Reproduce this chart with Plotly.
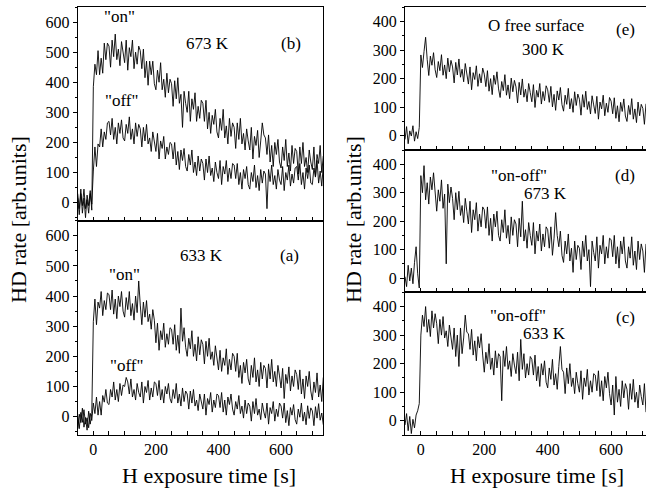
import plotly.graph_objects as go

# ---------------- data (5 s sampling) ----------------
t_left = list(range(-50, 736, 5))    # H exposure time [s], left panels
t_right = list(range(-50, 711, 5))   # right panels

b_on = [30, -20, 45, -35, 15, -50, 25, -10, 40, -25,
        385, 460, 425, 505, 425, 480, 430, 530, 475, 530,
        520, 450, 540, 485, 560, 475, 510, 455, 535, 495,
        465, 540, 440, 515, 485, 540, 445, 500, 460, 520,
        505, 445, 510, 415, 470, 390, 470, 425, 470, 395,
        375, 440, 400, 465, 375, 410, 350, 430, 365, 410,
        395, 320, 405, 345, 415, 330, 360, 250, 370, 330,
        300, 370, 270, 345, 310, 365, 270, 320, 280, 340,
        330, 270, 340, 245, 300, 230, 290, 260, 310, 235,
        215, 280, 240, 310, 215, 255, 195, 280, 220, 265,
        250, 180, 265, 210, 280, 195, 230, 175, 245, 205,
        175, 250, 145, 220, 190, 240, 150, 205, 265, 225,
        215, 160, 225, 135, 190, 120, 200, 160, 210, 135,
        115, 185, 140, 210, 120, 165, 105, 190, 130, 180,
        170, 95, 185, 130, 200, 120, 150, 100, 175, 135,
        110, 185, 85, 160, 130, 190, 100, 155]
b_off = [15, -40, 30, -10, 45, -20, 10, -35, 30, -5,
         105, 185, 120, 195, 185, 245, 185, 235, 210, 265,
         270, 225, 280, 210, 250, 195, 265, 230, 275, 215,
         205, 260, 230, 285, 210, 245, 195, 265, 220, 260,
         245, 185, 250, 205, 260, 195, 215, 170, 235, 195,
         170, 230, 145, 205, 180, 220, 145, 185, 160, 200,
         195, 145, 200, 125, 170, 110, 175, 140, 180, 120,
         105, 160, 125, 175, 100, 135, 90, 155, 105, 145,
         130, 75, 145, 100, 155, 90, 115, 70, 135, 100,
         80, 140, 60, 120, 95, 140, 70, 115, 80, 130,
         125, 80, 130, 60, 100, 45, 110, 80, 120, 60,
         45, 100, 70, 125, 50, 90, 40, 110, 65, 105,
         95, -20, 110, 70, 125, 60, 90, 45, 110, 75,
         60, 120, 40, 100, 75, 125, 55, 95, 65, 115,
         120, 75, 130, 60, 100, 45, 115, 80, 125, 65,
         60, 115, 85, 140, 65, 105, 55, 125]
a_on = [-40, 8, -20, 28, -35, -3, -45, 18, -25, 10,
        315, 390, 305, 380, 360, 415, 335, 385, 355, 410,
        405, 355, 420, 340, 390, 325, 400, 365, 415, 350,
        330, 395, 355, 415, 335, 375, 320, 400, 345, 450,
        370, 305, 380, 330, 385, 315, 340, 290, 355, 320,
        245, 310, 220, 285, 255, 310, 230, 275, 240, 295,
        290, 240, 305, 220, 270, 210, 360, 250, 295, 230,
        200, 260, 225, 285, 200, 240, 185, 265, 205, 255,
        240, 175, 250, 200, 260, 190, 215, 170, 235, 200,
        155, 220, 150, 195, 170, 225, 140, 190, 155, 210,
        200, 150, 210, 130, 170, 110, 180, 145, 190, 125,
        105, 170, 130, 195, 115, 155, 100, 180, 125, 170,
        160, 95, 175, 125, 190, 115, 150, 100, 170, 135,
        95, 160, 60, 140, 110, 165, 85, 135, 100, 155,
        140, 90, 155, 75, 125, 60, 135, 100, 150, 85,
        55, 115, 80, 145, 65, 105, 50, 130]
a_off = [2, -40, 14, -19, 23, -25, -4, -37, 11, -13,
         45, 10, 65, 5, 50, 5, 70, 48, 90, 45,
         40, 90, 65, 115, 55, 90, 50, 110, 70, 105,
         100, 130, 115, 75, 125, 65, 90, 55, 110, 80,
         65, 115, 45, 100, 80, 120, 55, 95, 65, 115,
         110, 70, 120, 55, 90, 45, 100, 75, 110, 60,
         45, 90, 60, 110, 45, 75, 35, 95, 50, 85,
         75, 25, 85, 45, 90, 35, 55, 20, 75, 45,
         25, 75, 5, 60, 40, 80, 15, 55, 30, 75,
         70, 30, 80, 15, 55, 5, 65, 40, 75, 25,
         5, 50, 25, 70, 10, 35, -5, 55, 10, 45,
         35, -15, 50, 10, 60, 5, 25, -10, 45, 15,
         -5, 45, -25, 30, 10, 50, -15, 25, 0, 45,
         35, -5, 45, -20, 20, -30, 30, 5, 40, -10,
         -25, 25, -2, 45, -15, 15, -27, 36, -6, 29,
         19, -30, 33, -5, 43, -12, 12, -27]
e_vals = [-13, 32, -28, 17, -1, 35, -19, 14, -10, 29,
          283, 239, 295, 345, 267, 211, 279, 247, 291, 231,
          204, 260, 228, 284, 212, 248, 200, 272, 224, 264,
          241, 185, 257, 213, 269, 205, 233, 189, 253, 221,
          181, 241, 161, 221, 197, 245, 173, 217, 185, 237,
          216, 172, 228, 156, 200, 144, 212, 180, 224, 164,
          134, 190, 158, 214, 142, 178, 130, 202, 154, 194,
          171, 115, 187, 143, 199, 135, 163, 119, 183, 151,
          119, 179, 99, 159, 135, 183, 111, 155, 123, 175,
          161, 117, 173, 101, 145, 89, 157, 125, 169, 109,
          86, 142, 110, 166, 94, 130, 82, 154, 106, 146,
          128, 72, 144, 100, 156, 92, 120, 76, 140, 108,
          78, 138, 58, 118, 94, 142, 70, 114, 82, 134,
          121, 77, 133, 61, 105, 49, 117, 85, 129, 69,
          50, 106, 74, 130, 58, 94, 46, 118, 70, 110,
          96, 40, 112]
d_vals = [5, -30, 45, -10, 35, -20, 55, 110, 15, -35,
          360, 300, 395, 275, 335, 260, 355, 310, 370, 285,
          235, 310, 270, 345, 245, 295, 50, 330, 265, 320,
          280, 205, 300, 240, 305, 220, 255, 195, 280, 235,
          190, 270, 160, 240, 205, 265, 165, 225, 180, 250,
          240, 175, 250, 150, 210, 130, 225, 180, 235, 150,
          130, 205, 160, 240, 140, 185, 120, 215, 150, 205,
          190, 110, 210, 145, 270, 130, 170, 105, 195, 150,
          115, 195, 85, 165, 130, 190, 95, 155, 110, 180,
          170, 105, 180, 80, 140, 230, 150, 110, 165, 80,
          55, 130, 85, 155, 60, 105, 20, 130, 65, 115,
          105, 30, 130, 75, 150, 60, 100, -30, 130, 90,
          60, 145, 35, 115, 85, 150, 50, 110, 70, 140,
          135, 75, 150, 50, 110, 35, 130, 85, 145, 60,
          35, 110, 70, 145, 45, 95, 30, 130, 65, 120,
          95, 20, 120]
c_vals = [-15, 25, -35, 15, -45, 5, -25, 20, 35, 60,
          300, 370, 330, 400, 310, 355, 295, 385, 325, 375,
          340, 270, 355, 300, 365, 290, 315, 260, 335, 295,
          250, 325, 225, 300, 190, 325, 235, 290, 370, 310,
          305, 250, 320, 230, 280, 210, 295, 255, 305, 230,
          170, 240, 200, 270, 180, 220, 160, 245, 185, 235,
          225, 70, 245, 190, 260, 180, 210, 155, 235, 195,
          165, 240, 140, 285, 180, 235, 150, 200, 160, 225,
          215, 160, 230, 140, 190, 120, 200, 160, 210, 135,
          115, 185, 145, 215, 125, 165, 110, 190, 260, 180,
          170, 95, 185, 130, 200, 120, 150, 95, 170, 130,
          100, 175, 75, 150, 120, 180, 90, 140, 100, 165,
          160, 105, 175, 85, 140, 70, 155, 115, 170, 95,
          55, 125, 20, 155, 65, 110, 50, 140, 80, 130,
          110, 40, 130, 75, 145, 65, 100, 45, 125, 85,
          55, 130, 30]

left_yticks = [0, 100, 200, 300, 400, 500, 600]
right_yticks = [0, 100, 200, 300, 400]
x_ticks = [0, 200, 400, 600]

# ---------------- figure ----------------
W, H = 646, 489
FONT = "Liberation Serif"
LINE = dict(color="black", width=0.9)

fig = go.Figure()
series = [
    (t_left, b_on, "x", "y"), (t_left, b_off, "x", "y"),
    (t_left, a_on, "x2", "y2"), (t_left, a_off, "x2", "y2"),
    (t_right, e_vals, "x3", "y3"),
    (t_right, d_vals, "x4", "y4"),
    (t_right, c_vals, "x5", "y5"),
]
for xs, ys, xa, ya in series:
    fig.add_trace(go.Scatter(x=xs, y=ys, mode="lines", line=LINE,
                             xaxis=xa, yaxis=ya, showlegend=False,
                             hoverinfo="skip"))

def px_x(p):
    return p / W

def px_y(p):
    return (H - p) / H

LX = [px_x(77.7), px_x(323.3)]
RX = [px_x(405), 1.0]
yb = [px_y(220.7), px_y(7)]
ya_ = [px_y(434.7), px_y(220.7)]
ye = [px_y(150), px_y(7.3)]
yd = [px_y(292.3), px_y(150)]
yc = [px_y(435), px_y(292.3)]

tickfont = dict(family=FONT, size=16, color="black")

def xaxis(domain, anchor, rng, labels):
    return dict(domain=domain, anchor=anchor, range=rng,
                tickvals=x_ticks, showticklabels=labels,
                ticks="inside", ticklen=4, tickwidth=1, tickcolor="black",
                minor=dict(dtick=50, tick0=0, ticks="inside", ticklen=4,
                           tickcolor="black", tickwidth=1),
                showline=True, linecolor="black", linewidth=1.2, mirror=True,
                showgrid=False, zeroline=False, tickfont=tickfont)

def yaxis(domain, anchor, rng, ticks, mirror=True):
    return dict(domain=domain, anchor=anchor, range=rng,
                tickvals=ticks, ticks="outside", ticklen=4, tickwidth=1,
                tickcolor="black",
                minor=dict(dtick=50, tick0=0, ticks="outside", ticklen=2,
                           tickcolor="black", tickwidth=1),
                showline=True, linecolor="black", linewidth=1.2, mirror=mirror,
                showgrid=False, zeroline=False, tickfont=tickfont)

fig.update_layout(
    width=W, height=H, margin=dict(l=0, r=0, t=0, b=0),
    paper_bgcolor="white", plot_bgcolor="white",
    xaxis=xaxis(LX, "y", [-50, 735], False),
    yaxis=yaxis(yb, "x", [-60, 650], left_yticks),
    xaxis2=xaxis(LX, "y2", [-50, 735], True),
    yaxis2=yaxis(ya_, "x2", [-60, 650], left_yticks),
    xaxis3=xaxis(RX, "y3", [-50, 710], False),
    yaxis3=yaxis(ye, "x3", [-50, 450], right_yticks, mirror=False),
    xaxis4=xaxis(RX, "y4", [-50, 710], False),
    yaxis4=yaxis(yd, "x4", [-50, 450], right_yticks, mirror=False),
    xaxis5=xaxis(RX, "y5", [-50, 710], True),
    yaxis5=yaxis(yc, "x5", [-50, 450], right_yticks, mirror=False),
)

def note(text, x, y, size=17, angle=0):
    fig.add_annotation(text=text, x=px_x(x), y=px_y(y), xref="paper",
                       yref="paper", showarrow=False, textangle=angle,
                       xanchor="center", yanchor="middle",
                       font=dict(family=FONT, size=size, color="black"))

# panel labels
note('"on"', 119, 17)
note("673 K", 207, 43)
note("(b)", 291, 43)
note('"off"', 121, 101)
note("633 K", 201, 256)
note("(a)", 289, 256)
note('"on"', 124, 274)
note('"off"', 126, 365)
note("O free surface", 536, 25)
note("300 K", 543, 49)
note("(e)", 625, 30)
note('"on-off"', 519, 175)
note("673 K", 545, 193)
note("(d)", 625, 175)
note('"on-off"', 518, 315)
note("633 K", 544, 333)
note("(c)", 625, 317)

# axis titles
note("H exposure time [s]", 209, 475, size=22)
note("H exposure time [s]", 537, 475, size=22)
note("HD rate [arb.units]", 18, 220, size=22, angle=-90)
note("HD rate [arb.units]", 353, 220, size=22, angle=-90)

fig.write_html("out.html", config={"displayModeBar": False},
               post_script="document.body.style.margin='0px';"
                           "document.body.style.overflow='hidden';")
